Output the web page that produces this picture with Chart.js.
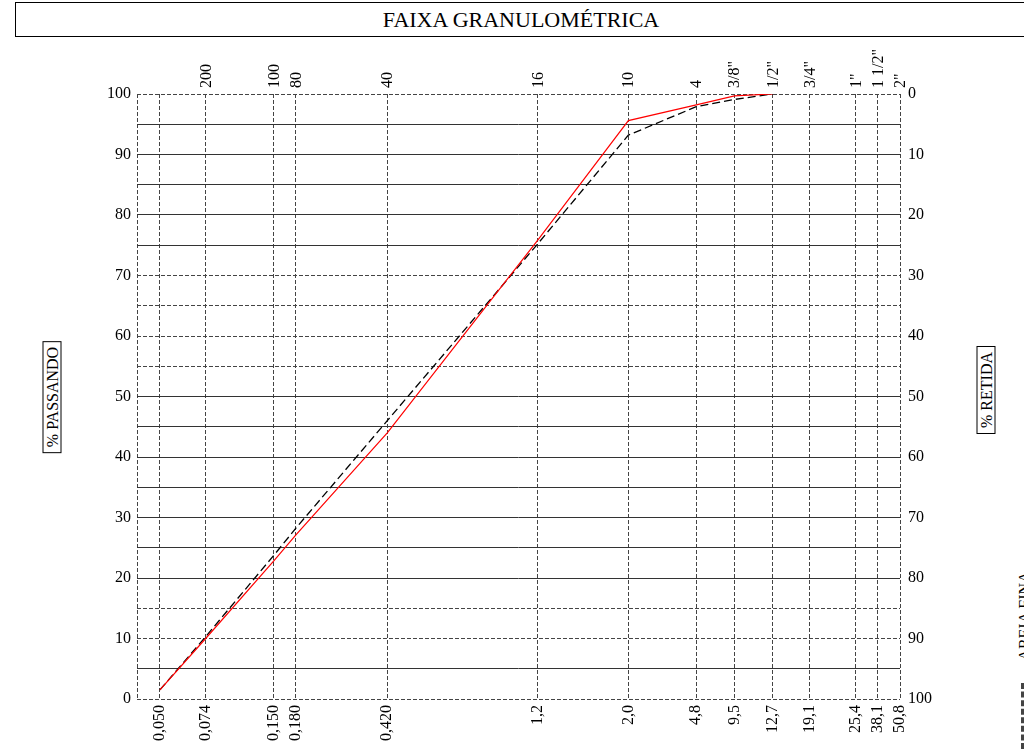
<!DOCTYPE html>
<html>
<head>
<meta charset="utf-8">
<title>Faixa granulométrica</title>
<script src="https://cdn.jsdelivr.net/npm/chart.js@4/dist/chart.umd.min.js"></script>
<style>
  html, body { margin: 0; padding: 0; width: 1024px; height: 749px; overflow: hidden; background: #fff; }
  body { position: relative; font-family: "Liberation Serif", "Times New Roman", serif; color: #000; }
  .title { position: absolute; left: 15px; top: 2px; width: 1010px; height: 33px; border: 1px solid #000;
           text-align: center; font-size: 22px; line-height: 34px; }
  .vlab { position: absolute; transform: translate(-50%, -50%) rotate(-90deg); white-space: nowrap;
          font-size: 16px; line-height: 17px; }
  .boxed { border: 1px solid #000; padding: 0 5px; }
  #wrap { position: absolute; left: 0; top: 40px; width: 1024px; height: 709px; }
  .dash { position: absolute; left: 1021px; top: 683px; height: 66px; border-left: 3px dashed #444; }
</style>
</head>
<body>
<div class="title">FAIXA GRANULOMÉTRICA</div>
<div class="vlab boxed" style="left:52px; top:397px;">% PASSANDO</div>
<div class="vlab boxed" style="left:986px; top:390px;">% RETIDA</div>
<div class="vlab" style="left:1024px; top:616px;">AREIA FINA</div>
<div class="dash"></div>
<div id="wrap"><canvas id="granulo"></canvas></div>
<script>
/* sieve openings (mm) and their mesh / inch names, as printed on the chart */
var sieveMm = ['0,050', '0,074', '0,150', '0,180', '0,420', '1,2', '2,0', '4,8', '9,5', '12,7', '19,1', '25,4', '38,1', '50,8'];
var sieveMesh = ['', '200', '100', '80', '40', '16', '10', '4', '3/8"', '1/2"', '3/4"', '1"', '1 1/2"', '2"'];
/* the original chart spaces the sieves on its own 0-100 abscissa (not a true log scale) */
var sieveAxis = [3, 9, 17.9, 20.8, 32.8, 52.5, 64.4, 73.3, 78.3, 83.3, 88.2, 94.2, 97.1, 100];

/* % passing (up to the 12,7 mm sieve) */
var redPassing = [1.5, 10, 22.8, 27.1, 44, 75.8, 95.6, 98.2, 99.7, 100];
var blackPassing = [1.5, 10.3, 23.7, 28.2, 46, 75.2, 93.2, 97.9, 99.1, 100];

/* horizontal grid levels drawn dashed (all others solid) */
var dashedLevels = [0, 10, 15, 55, 60, 65, 70, 100];

function pts(vals) {
  return vals.map(function (v, i) { return { x: sieveAxis[i], y: v }; });
}
function sieveTicks(scale) {
  scale.ticks = [0].concat(sieveAxis).map(function (v) { return { value: v }; });
}

Chart.defaults.font.family = '"Liberation Serif", "Times New Roman", serif';
Chart.defaults.font.size = 16;
Chart.defaults.color = '#000';

var tickFont = { size: 16 };

new Chart(document.getElementById('granulo'), {
  type: 'line',
  data: {
    datasets: [{
      label: 'faixa 1',
      data: pts(redPassing),
      borderColor: '#ff0000',
      borderWidth: 1.2,
      pointRadius: 0,
      tension: 0
    }, {
      label: 'faixa 2',
      data: pts(blackPassing),
      borderColor: '#000',
      borderWidth: 1.3,
      borderDash: [8, 4],
      pointRadius: 0,
      tension: 0
    }]
  },
  options: {
    responsive: true, maintainAspectRatio: false, animation: false,
    layout: { padding: 0 },
    plugins: { legend: { display: false }, tooltip: { enabled: false } },
    scales: {
      x: {
        type: 'linear', position: 'bottom', min: 0, max: 100,
        afterBuildTicks: sieveTicks,
        afterFit: function (s) { s.height = 50; },
        ticks: {
          autoSkip: false, minRotation: 90, maxRotation: 90, padding: 6, font: tickFont,
          callback: function (v, i) { return i === 0 ? '' : sieveMm[i - 1]; }
        },
        grid: { color: '#444', lineWidth: 1, drawTicks: false },
        border: { display: false, dash: [4, 2] }
      },
      x2: {
        type: 'linear', position: 'top', min: 0, max: 100,
        afterBuildTicks: sieveTicks,
        afterFit: function (s) { s.height = 54; },
        ticks: {
          autoSkip: false, minRotation: 90, maxRotation: 90, padding: 6, font: tickFont,
          labelOffset: 20,
          callback: function (v, i) { return i === 0 ? '' : sieveMesh[i - 1]; }
        },
        grid: { drawOnChartArea: false, drawTicks: false },
        border: { display: false }
      },
      y: {
        position: 'left', min: 0, max: 100,
        afterFit: function (s) { s.width = 137; },
        ticks: {
          stepSize: 5, autoSkip: false, padding: 6, font: tickFont,
          callback: function (v) { return v % 10 === 0 ? v : ''; }
        },
        grid: {
          drawTicks: false, lineWidth: 1,
          color: function (ctx) { return ctx.tick && dashedLevels.indexOf(ctx.tick.value) !== -1 ? '#444' : '#333'; }
        },
        border: {
          display: false,
          dash: function (ctx) {
            if (!ctx.tick) { return [4, 2]; }
            return dashedLevels.indexOf(ctx.tick.value) !== -1 ? [4, 2] : [];
          }
        }
      },
      y2: {
        position: 'right', min: 0, max: 100, reverse: true,
        afterFit: function (s) { s.width = 124; },
        ticks: { stepSize: 10, autoSkip: false, padding: 8, font: tickFont },
        grid: { drawOnChartArea: false, drawTicks: false },
        border: { display: false }
      }
    }
  }
});
</script>
</body>
</html>
